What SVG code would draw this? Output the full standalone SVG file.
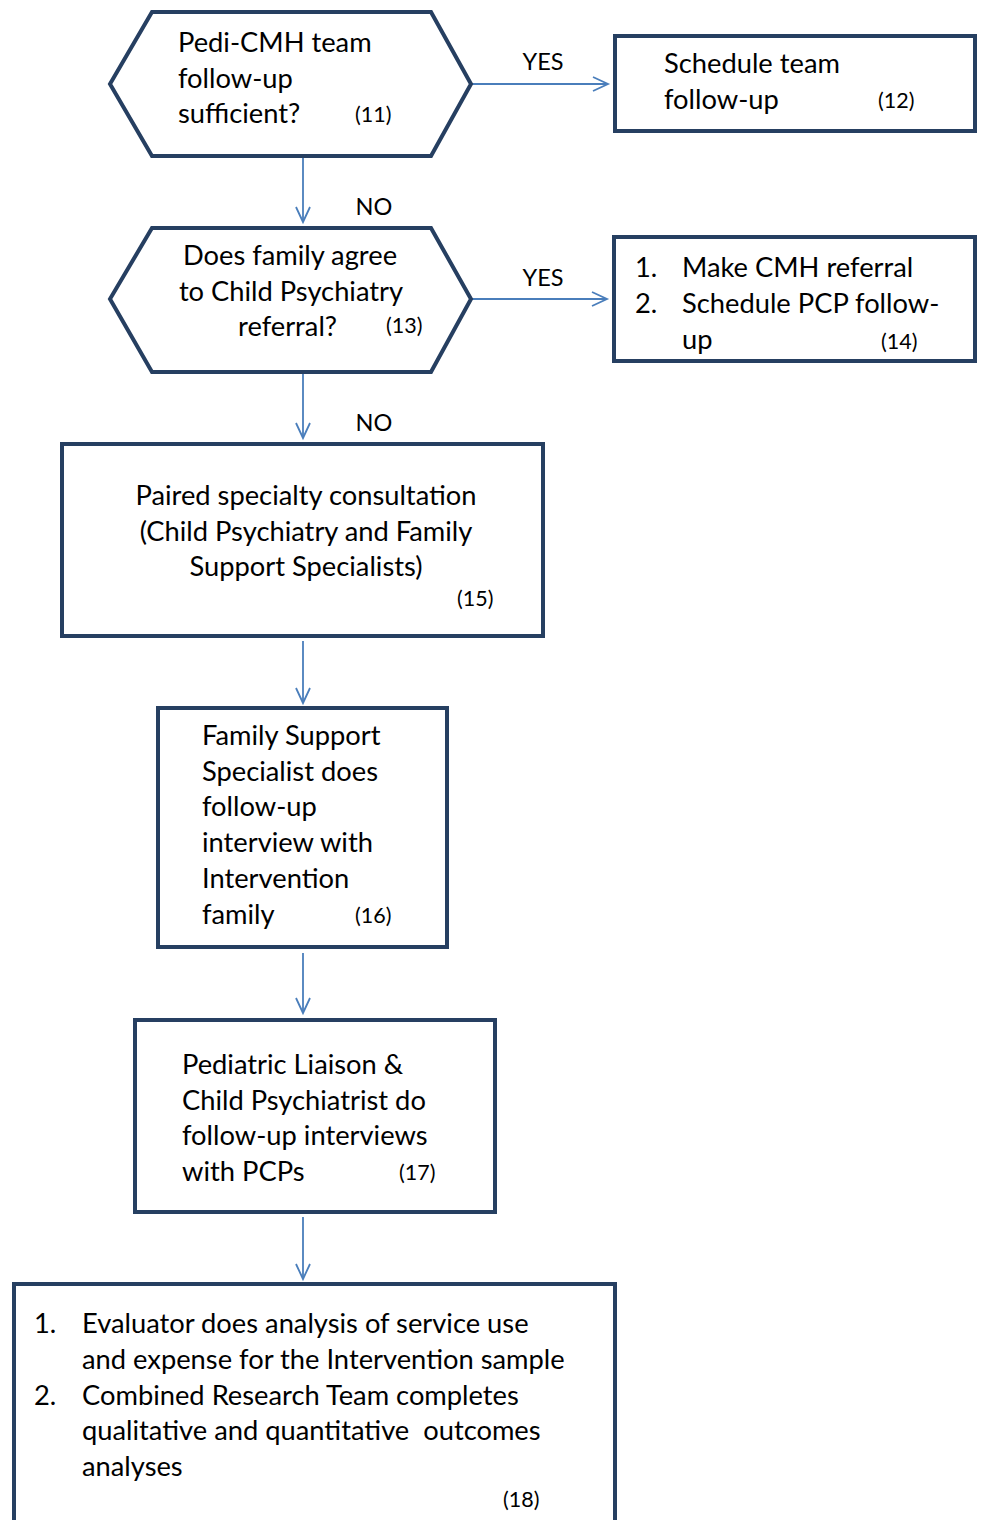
<svg xmlns="http://www.w3.org/2000/svg" width="984" height="1520" viewBox="0 0 984 1520">
<defs>
<marker id="ah" markerWidth="20" markerHeight="20" refX="16" refY="8" orient="auto" markerUnits="userSpaceOnUse">
<path d="M1,1 L16,8 L1,15" fill="none" stroke="#4a7ebb" stroke-width="1.8"/>
</marker>
<style>
.n{fill:#fff;stroke:#263f61;stroke-width:4}
.c{stroke:#4a7ebb;stroke-width:1.8;fill:none;marker-end:url(#ah)}
text{font-family:Lato,"Liberation Sans",sans-serif;font-size:27.3px;fill:#000}
.s{font-size:21.5px}
.l{font-size:23.5px}
.m{text-anchor:middle}
</style>
</defs>
<rect width="984" height="1520" fill="#fff"/>
<g id="connectors">
<line class="c" x1="471" y1="84" x2="608" y2="84"/>
<line class="c" x1="303" y1="156" x2="303" y2="222"/>
<line class="c" x1="471" y1="299" x2="607" y2="299"/>
<line class="c" x1="303" y1="372" x2="303" y2="438"/>
<line class="c" x1="303" y1="641" x2="303" y2="703"/>
<line class="c" x1="303" y1="953" x2="303" y2="1013"/>
<line class="c" x1="303" y1="1217" x2="303" y2="1279"/>
<text class="m l" x="543" y="70">YES</text>
<text class="m l" x="374" y="215">NO</text>
<text class="m l" x="543" y="286">YES</text>
<text class="m l" x="374" y="431">NO</text>
</g>
<g id="n11">
<polygon class="n" points="152,12 431,12 471,84 431,156 152,156 110,84"/>
<text x="178" y="52">Pedi-CMH team</text>
<text x="178" y="88">follow-up</text>
<text x="178" y="123">sufficient?</text>
<text class="s" x="355" y="122">(11)</text>
</g>
<g id="n12">
<rect class="n" x="615" y="36" width="360" height="95"/>
<text x="664" y="73">Schedule team</text>
<text x="664" y="109">follow-up</text>
<text class="s" x="878" y="108">(12)</text>
</g>
<g id="n13">
<polygon class="n" points="152,228 431,228 471,299 431,372 152,372 110,299"/>
<text class="m" x="290" y="265">Does family agree</text>
<text class="m" x="291" y="301">to Child Psychiatry</text>
<text x="238" y="336">referral?</text>
<text class="s" x="386" y="333">(13)</text>
</g>
<g id="n14">
<rect class="n" x="614" y="237" width="361" height="124"/>
<text x="635" y="277">1.</text>
<text x="682" y="277">Make CMH referral</text>
<text x="635" y="313">2.</text>
<text x="682" y="313">Schedule PCP follow-</text>
<text x="682" y="349">up</text>
<text class="s" x="881" y="349">(14)</text>
</g>
<g id="n15">
<rect class="n" x="62" y="444" width="481" height="192"/>
<text class="m" x="306" y="505">Paired specialty consultation</text>
<text class="m" x="306" y="541">(Child Psychiatry and Family</text>
<text class="m" x="306" y="576">Support Specialists)</text>
<text class="s" x="457" y="606">(15)</text>
</g>
<g id="n16">
<rect class="n" x="158" y="708" width="289" height="239"/>
<text x="202" y="745">Family Support</text>
<text x="202" y="781">Specialist does</text>
<text x="202" y="816">follow-up</text>
<text x="202" y="852">interview with</text>
<text x="202" y="888">Intervention</text>
<text x="202" y="924">family</text>
<text class="s" x="355" y="923">(16)</text>
</g>
<g id="n17">
<rect class="n" x="135" y="1020" width="360" height="192"/>
<text x="182" y="1074">Pediatric Liaison &amp;</text>
<text x="182" y="1110">Child Psychiatrist do</text>
<text x="182" y="1145">follow-up interviews</text>
<text x="182" y="1181">with PCPs</text>
<text class="s" x="399" y="1180">(17)</text>
</g>
<g id="n18">
<rect class="n" x="14" y="1284" width="601" height="260"/>
<text x="34" y="1333">1.</text>
<text x="82" y="1333">Evaluator does analysis of service use</text>
<text x="82" y="1369">and expense for the Intervention sample</text>
<text x="34" y="1405">2.</text>
<text x="82" y="1405">Combined Research Team completes</text>
<text x="82" y="1440">qualitative and quantitative&#160; outcomes</text>
<text x="82" y="1476">analyses</text>
<text class="s" x="503" y="1507">(18)</text>
</g>
</svg>
